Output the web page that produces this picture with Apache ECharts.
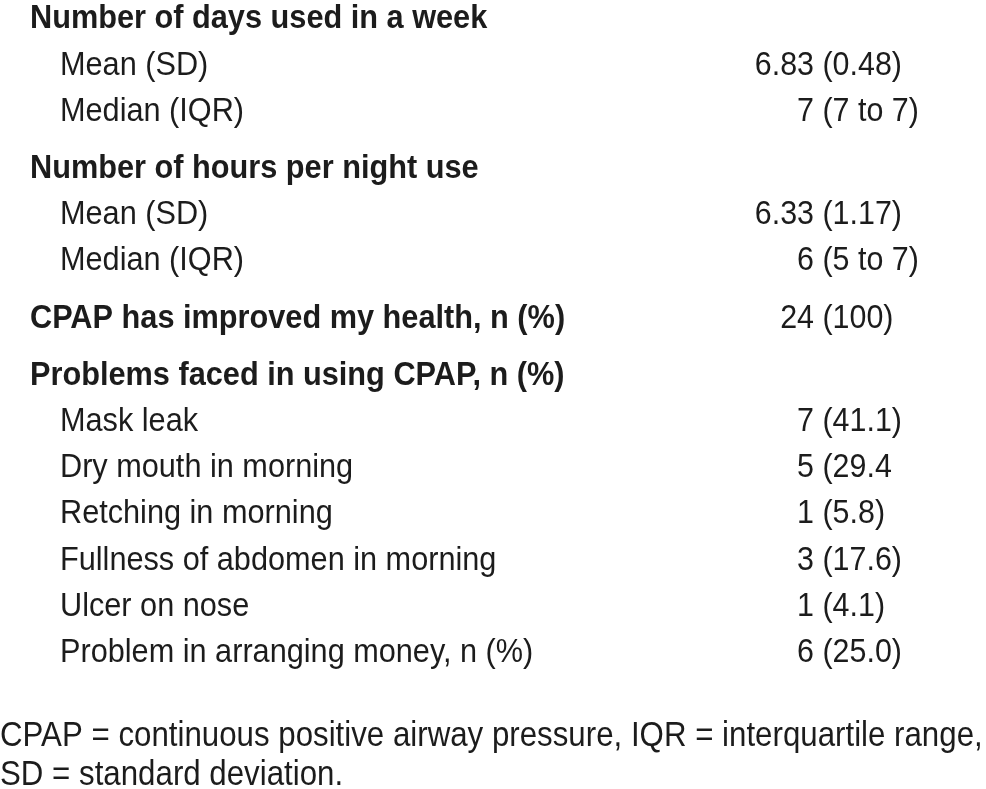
<!DOCTYPE html>
<html><head><meta charset="utf-8">
<script src="https://cdn.jsdelivr.net/npm/echarts@6/dist/echarts.min.js"></script>
<style>html,body{margin:0;padding:0;background:#fff}#c{width:986px;height:789px}</style>
</head><body><div id="c"></div>
<script>
// ---- data ----
const rowLabels = [
  'Number of days used in a week',
  'Mean (SD)',
  'Median (IQR)',
  'Number of hours per night use',
  'Mean (SD)',
  'Median (IQR)',
  'CPAP has improved my health, n (%)',
  'Problems faced in using CPAP, n (%)',
  'Mask leak',
  'Dry mouth in morning',
  'Retching in morning',
  'Fullness of abdomen in morning',
  'Ulcer on nose',
  'Problem in arranging money, n (%)'
];
const rowKinds = ['head','item','item','head','item','item','head','head','item','item','item','item','item','item'];
const valueMain = ['', '6.83', '7', '', '6.33', '6', '24', '', '7', '5', '1', '3', '1', '6'];
const valueParen = ['', '(0.48)', '(7 to 7)', '', '(1.17)', '(5 to 7)', '(100)', '', '(41.1)', '(29.4', '(5.8)', '(17.6)', '(4.1)', '(25.0)'];
const footnoteLines = [
  'CPAP = continuous positive airway pressure, IQR = interquartile range,',
  'SD = standard deviation.'
];

// ---- layout ----
const FAMILY = '"Liberation Sans", Arial, Helvetica, sans-serif';
const FS = 34;
const SX_REG = 0.902, SX_BOLD = 0.903;
const INK = '#1c1c1c';
const ROW_STEP = 46.2, GROUP_GAP = 11, FIRST_BASE = 28.5;
const MID_OFF = 0.34 * FS - 2; // baseline -> middle
const VAL_X = 814;

const chart = echarts.init(document.getElementById('c'), null, {renderer: 'canvas'});
const els = [];
let gaps = 0;
rowLabels.forEach((lab, i) => {
  if (rowKinds[i] === 'head' && i > 0) gaps++;
  const base = FIRST_BASE + i * ROW_STEP + gaps * GROUP_GAP;
  const y = base - MID_OFF;
  const bold = rowKinds[i] === 'head';
  const font = (bold ? 'bold ' : '') + FS + 'px ' + FAMILY;
  els.push({type: 'text', x: bold ? 30 : 60, y: y, scaleX: bold ? SX_BOLD : SX_REG,
    style: {text: lab, font: font, fill: INK, align: 'left', verticalAlign: 'middle', textAlign: 'left', textVerticalAlign: 'middle'}});
  if (valueMain[i]) {
    const vf = FS + 'px ' + FAMILY;
    els.push({type: 'text', x: VAL_X, y: y, scaleX: 0.895,
      style: {text: valueMain[i], font: vf, fill: INK, align: 'right', verticalAlign: 'middle', textAlign: 'right', textVerticalAlign: 'middle'}});
    els.push({type: 'text', x: VAL_X, y: y, scaleX: 0.895,
      style: {text: ' ' + valueParen[i], font: vf, fill: INK, align: 'left', verticalAlign: 'middle', textAlign: 'left', textVerticalAlign: 'middle'}});
  }
});
const FFS = 35;
const FOOT_BASE = [746, 785];
footnoteLines.forEach((t, k) => {
  els.push({type: 'text', x: 0, y: FOOT_BASE[k] - (0.34 * FFS - 2), scaleX: 0.893,
    style: {text: t, font: FFS + 'px ' + FAMILY, fill: INK, align: 'left', verticalAlign: 'middle', textAlign: 'left', textVerticalAlign: 'middle'}});
});

chart.setOption({
  backgroundColor: '#ffffff',
  animation: false,
  graphic: {elements: els}
});
</script>
</body></html>
